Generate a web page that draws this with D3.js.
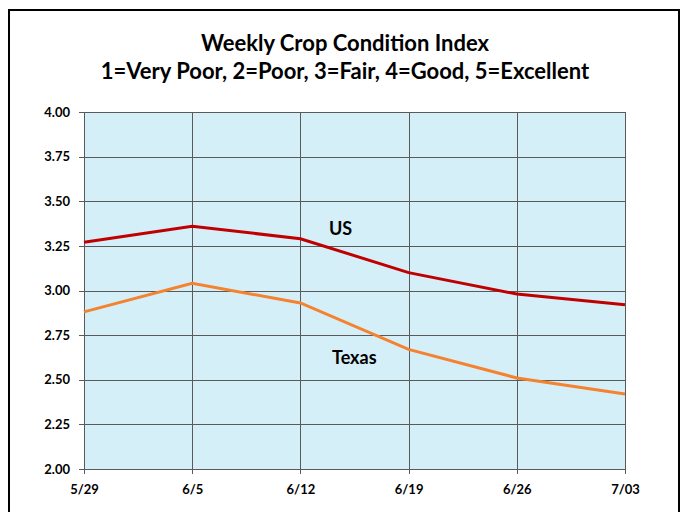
<!DOCTYPE html>
<html>
<head>
<meta charset="utf-8">
<script src="https://cdn.jsdelivr.net/npm/d3@7"></script>
<style>
  body { margin: 0; background: #fff; }
  svg text { font-family: Lato, "Liberation Sans", sans-serif; font-weight: bold; fill: #000; }
  .grid line { stroke: #5a5a5a; stroke-width: 1; }
  .axis path { display: none; }
  .axis line { stroke: #5a5a5a; }
</style>
</head>
<body>
<script>
// weekly index values
const weeks = ["5/29", "6/5", "6/12", "6/19", "6/26", "7/03"];
const usValues = [3.27, 3.36, 3.29, 3.10, 2.98, 2.92];
const texasValues = [2.88, 3.04, 2.93, 2.67, 2.51, 2.42];
const yTicks = [2.00, 2.25, 2.50, 2.75, 3.00, 3.25, 3.50, 3.75, 4.00];
const titleLines = ["Weekly Crop Condition Index", "1=Very Poor, 2=Poor, 3=Fair, 4=Good, 5=Excellent"];

const W = 686, H = 512;
const margin = { top: 112, right: 61, bottom: 43, left: 84 };
const width = W - margin.left - margin.right,
      height = H - margin.top - margin.bottom;

const svg = d3.select('body').append('svg')
    .attr('width', W)
    .attr('height', H);

// outer frame
svg.append('rect')
    .attr('x', 9).attr('y', 10)
    .attr('width', 670).attr('height', 510)
    .attr('fill', 'none')
    .attr('stroke', '#000')
    .attr('stroke-width', 2);

svg.selectAll('text.title')
    .data(titleLines)
    .enter().append('text')
    .attr('class', 'title')
    .attr('x', 345)
    .attr('y', (d, i) => 51 + i * 28)
    .attr('text-anchor', 'middle')
    .style('font-size', '22px')
    .text(d => d);

const x = d3.scalePoint().domain(weeks).range([0, width]);
const y = d3.scaleLinear().domain([2, 4]).range([height, 0]);

const g = svg.append('g')
    .attr('transform', `translate(${margin.left}, ${margin.top})`);

g.append('rect')
    .attr('width', width)
    .attr('height', height)
    .attr('fill', '#d5eff8');

// grid
const grid = g.append('g').attr('class', 'grid');
grid.selectAll('line.h').data(yTicks).enter().append('line')
    .attr('class', 'h')
    .attr('x1', -5).attr('x2', width)
    .attr('y1', d => Math.round(y(d)) + 0.5)
    .attr('y2', d => Math.round(y(d)) + 0.5);
grid.selectAll('line.v').data(weeks).enter().append('line')
    .attr('class', 'v')
    .attr('y1', 0).attr('y2', height + 5)
    .attr('x1', d => Math.round(x(d)) + 0.5)
    .attr('x2', d => Math.round(x(d)) + 0.5);

// axes (labels only, grid draws the ticks)
const yAxis = d3.axisLeft(y).tickValues(yTicks).tickFormat(d3.format('.2f')).tickSize(0).tickPadding(14);
g.append('g').attr('class', 'axis y').call(yAxis)
    .selectAll('text').style('font-size', '13px');

const xAxis = d3.axisBottom(x).tickSize(0).tickPadding(16);
g.append('g').attr('class', 'axis x')
    .attr('transform', `translate(0, ${height})`)
    .call(xAxis)
    .selectAll('text').style('font-size', '13px');

const line = d3.line()
    .x((d, i) => x(weeks[i]))
    .y(d => y(d));

g.append('path')
    .datum(texasValues)
    .attr('d', line)
    .attr('fill', 'none')
    .attr('stroke', '#f5822f')
    .attr('stroke-width', 3);

g.append('path')
    .datum(usValues)
    .attr('d', line)
    .attr('fill', 'none')
    .attr('stroke', '#c00000')
    .attr('stroke-width', 3);

// series labels
svg.append('text')
    .attr('x', 329).attr('y', 235)
    .style('font-size', '18px')
    .text('US');
svg.append('text')
    .attr('x', 332).attr('y', 364)
    .style('font-size', '18px')
    .text('Texas');
</script>
</body>
</html>
